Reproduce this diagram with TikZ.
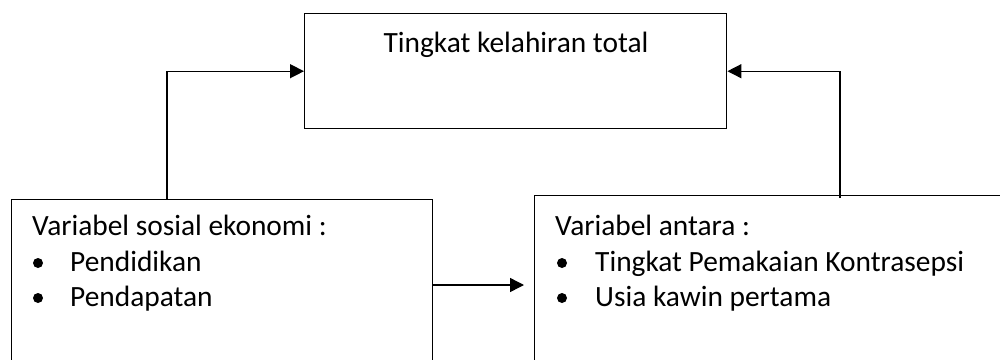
\documentclass[tikz,border=0pt]{standalone}
\usepackage{fontspec}
\setmainfont{Carlito}
\usetikzlibrary{arrows.meta}
\begin{document}
\begin{tikzpicture}[x=1pt,y=-1pt,
  box/.style={draw=black, line width=1.4pt, rectangle, inner sep=0pt, anchor=north west},
  txt/.style={inner sep=0pt, anchor=base west, font=\fontsize{29.4}{35}\selectfont},
  bul/.style={circle, fill=black, inner sep=0pt, minimum size=10pt},
  arr/.style={line width=1.4pt, -{Triangle[length=14pt,width=14pt]}}]
\useasboundingbox (0,0) rectangle (1000,359);
\clip (0,0) rectangle (1000,359);
% boxes
\node[box, minimum width=422pt, minimum height=115pt] (tbox) at (304,13) {};
\node[box, minimum width=421pt, minimum height=175pt] (lbox) at (11,199) {};
\node[box, minimum width=480pt, minimum height=180pt] (rbox) at (534,195) {};
% texts
\node[txt, anchor=base] (ttxt) at (516,52) {Tingkat kelahiran total};
\node[txt] (l0) at (32,235) {Variabel sosial ekonomi :};
\node[bul] (lb1) at (38,263) {};
\node[txt] (l1) at (70,271) {Pendidikan};
\node[bul] (lb2) at (38,298) {};
\node[txt] (l2) at (70,306) {Pendapatan};
\node[txt] (r0) at (555,235) {Variabel antara :};
\node[bul] (rb1) at (562,263) {};
\node[txt] (r1) at (595,271) {Tingkat Pemakaian Kontrasepsi};
\node[bul] (rb2) at (562,298) {};
\node[txt] (r2) at (595,306) {Usia kawin pertama};
% connectors
\coordinate (ls) at (167,199);
\coordinate (rs) at (840,198);
\coordinate (mid) at (0,285);
\draw[arr] (ls) |- (tbox.west);
\draw[arr] (rs) |- (tbox.east);
\draw[arr, shorten >=10pt] (lbox.east |- mid) -- (rbox.west |- mid);
\end{tikzpicture}
\end{document}
